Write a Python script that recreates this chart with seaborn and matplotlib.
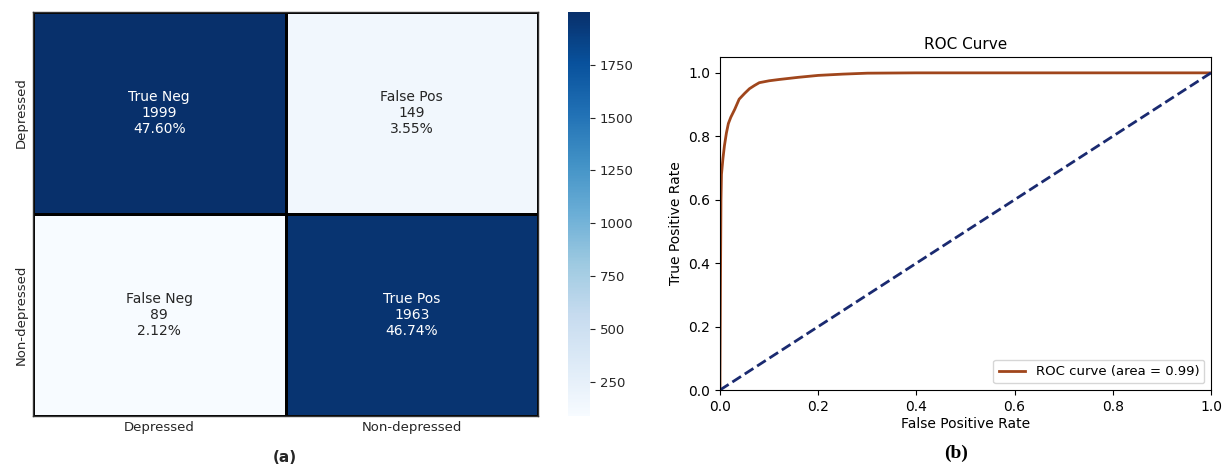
import numpy as np
import pandas as pd
import matplotlib
matplotlib.use("Agg")
import matplotlib.pyplot as plt
import seaborn as sns

# ---- data ----
class_names = ["Depressed", "Non-depressed"]
cell_names = ["True Neg", "False Pos", "False Neg", "True Pos"]
cell_counts = [1999, 149, 89, 1963]

fpr = [0.0, 0.0, 0.001, 0.002, 0.003, 0.006, 0.009, 0.013, 0.017, 0.022, 0.03, 0.039,
       0.05, 0.06, 0.07, 0.08, 0.1, 0.12, 0.16, 0.2, 0.25, 0.3, 0.4, 1.0]
tpr = [0.0, 0.05, 0.35, 0.6, 0.68, 0.73, 0.77, 0.81, 0.84, 0.86, 0.885, 0.917,
       0.935, 0.95, 0.96, 0.969, 0.975, 0.979, 0.986, 0.992, 0.996, 0.999, 1.0, 1.0]
roc_auc = 0.99
diag_x = [0.0, 1.0]
diag_y = [0.0, 1.0]

W, H = 1231, 468
fig = plt.figure(figsize=(W / 100, H / 100), dpi=100)

def rect(l, t, r, b):
    return [l / W, 1 - b / H, (r - l) / W, (b - t) / H]

ax1 = fig.add_axes(rect(33, 12, 538, 416))
cax = fig.add_axes(rect(568, 12, 590, 416))
ax2 = fig.add_axes(rect(720, 57, 1211, 390))

# ---- confusion matrix ----
counts = np.array(cell_counts).reshape(2, 2)
total = sum(cell_counts)
labels = [f"{n}\n{c}\n{c / total:.2%}" for n, c in zip(cell_names, cell_counts)]
labels = np.array(labels).reshape(2, 2)
df = pd.DataFrame(counts, index=class_names, columns=class_names)

sns.heatmap(df, annot=labels, fmt="", cmap="Blues", ax=ax1, cbar_ax=cax,
            linewidths=1.0, linecolor="black", annot_kws={"fontsize": 10})
ax1.tick_params(length=0, labelsize=9.5, colors="#262626")
ax1.set_yticklabels(class_names, rotation=90, va="center")
for sp in ax1.spines.values():
    sp.set_visible(True)
    sp.set_color("#333333")
    sp.set_linewidth(1)
cax.tick_params(labelsize=9.5, colors="#262626")
cbar = ax1.collections[0].colorbar
if cbar is not None:
    cbar.outline.set_visible(False)
fig.text(285 / W, 1 - 458 / H, "(a)", ha="center", va="center",
         fontsize=11, fontweight="bold", color="#262626")

# ---- ROC curve ----
roc_df = pd.DataFrame({"fpr": fpr, "tpr": tpr})
sns.lineplot(data=roc_df, x="fpr", y="tpr", ax=ax2, color="#a0461c", lw=2,
             label=f"ROC curve (area = {roc_auc:.2f})", estimator=None, sort=False)
ax2.plot(diag_x, diag_y, color="#1a2a70", lw=2, linestyle="--")
ax2.set_xlim(0.0, 1.0)
ax2.set_ylim(0.0, 1.05)
ax2.set_xlabel("False Positive Rate", fontsize=10, labelpad=2)
ax2.set_ylabel("True Positive Rate", fontsize=10)
ax2.set_title("ROC Curve", fontsize=11)
ax2.tick_params(labelsize=10)
ax2.legend(loc="lower right", fontsize=9.5)
fig.text(956 / W, 1 - 453 / H, "(b)", ha="center", va="center",
         fontsize=14, fontweight="bold", family="Liberation Serif")

fig.savefig("out.png", dpi=100)
